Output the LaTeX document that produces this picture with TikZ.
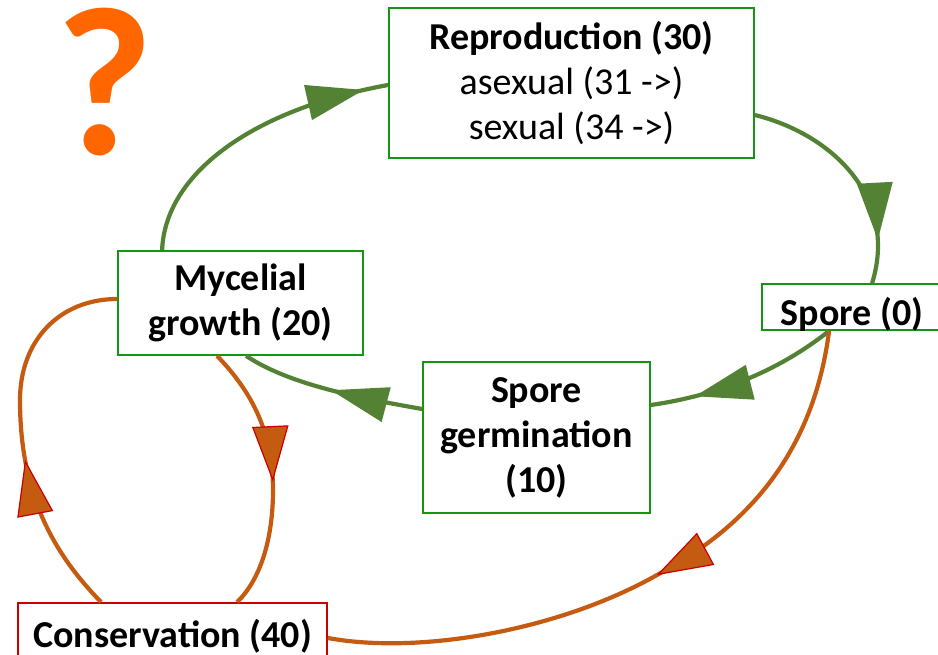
\documentclass[tikz,border=0pt]{standalone}
\usepackage{fontspec}
\setmainfont{Carlito}
\usetikzlibrary{decorations.markings}
\definecolor{boxgreen}{RGB}{20,150,20}
\definecolor{linegreen}{RGB}{84,130,53}
\definecolor{lineorange}{RGB}{197,90,17}
\definecolor{boxred}{RGB}{200,0,0}
\definecolor{qorange}{RGB}{255,102,0}
\tikzset{
 box/.style={draw=boxgreen, line width=1.8pt, fill=white, inner sep=0pt, align=center, font=\fontsize{38}{45}\selectfont},
 redbox/.style={box, draw=boxred},
 gconn/.style={draw=linegreen, line width=4.2pt},
 oconn/.style={draw=lineorange, line width=4.2pt},
 gtri/.style={postaction={decorate}, decoration={markings, mark=at position #1 with {\fill[linegreen] (0pt,0pt) -- (-57pt,18pt) -- (-57pt,-18pt) -- cycle;}}},
 otri/.style={postaction={decorate}, decoration={markings, mark=at position #1 with {\filldraw[fill=lineorange, draw=boxred, line width=1.2pt, line join=miter] (0pt,0pt) -- (-53pt,17.5pt) -- (-53pt,-17.5pt) -- cycle;}}},
}
\begin{document}
\begin{tikzpicture}[x=1pt,y=-1pt]
\useasboundingbox (0,0) rectangle (938,655);
\node[text=qorange, font=\fontsize{212}{212}\selectfont\bfseries, anchor=base, inner sep=0pt] (q) at (105,155) {\smash{?}};
\node[box, minimum width=365pt, minimum height=150pt] (rep) at (571.5,83) {\textbf{Reproduction (30)}\\asexual (31 ->)\\sexual (34 ->)};
\node[box, minimum width=245pt, minimum height=104pt, font=\fontsize{38}{45}\selectfont\bfseries] (myc) at (240.5,303) {Mycelial\\growth (20)};
\node[box, minimum width=180pt, minimum height=46pt, font=\fontsize{38}{45}\selectfont\bfseries] (spore) at (852,307) {\smash{\raisebox{-19pt}{Spore (0)}}};
\node[box, minimum width=227pt, minimum height=151pt, font=\fontsize{38}{45}\selectfont\bfseries] (germ) at (536.5,437.5) {Spore\\germination\\(10)};
\node[redbox, minimum width=309pt, minimum height=66pt, font=\fontsize{38}{45}\selectfont\bfseries] (cons) at (172.5,636) {Conservation (40)};
% green cycle
\draw[gconn, gtri=-25pt] ([xshift=45pt]myc.north west) .. controls (165,175) and (250,110) .. ([yshift=-2pt]rep.west);
\draw[gconn, gtri=-44pt] ([yshift=-32pt]rep.east) .. controls (835,135) and (898,200) .. ([xshift=111pt]spore.north west);
\draw[gconn, gtri=-45pt] ([xshift=68pt]spore.south west) .. controls (780,370) and (720,395) .. ([yshift=32.5pt]germ.east);
\draw[gconn, gtri=93pt] ([yshift=28.5pt]germ.west) .. controls (360,398) and (290,385) .. ([xshift=129pt]myc.south west);
% orange conservation
\draw[oconn, otri=139pt] ([xshift=100pt]myc.south west) .. controls (250,390) and (273,430) .. (273,490) .. controls (273,540) and (260,580) .. ([xshift=220pt]cons.north west);
\draw[oconn, otri=162pt] ([xshift=84pt]cons.north west) .. controls (50,550) and (20,490) .. (20,400) .. controls (20,340) and (60,299) .. ([yshift=4pt]myc.west);
\draw[oconn, otri=310pt] ([xshift=68pt]spore.south west) .. controls (815,440) and (760,520) .. (657,575) .. controls (560,630) and (420,655) .. ([yshift=-2pt]cons.east);
\end{tikzpicture}
\end{document}
